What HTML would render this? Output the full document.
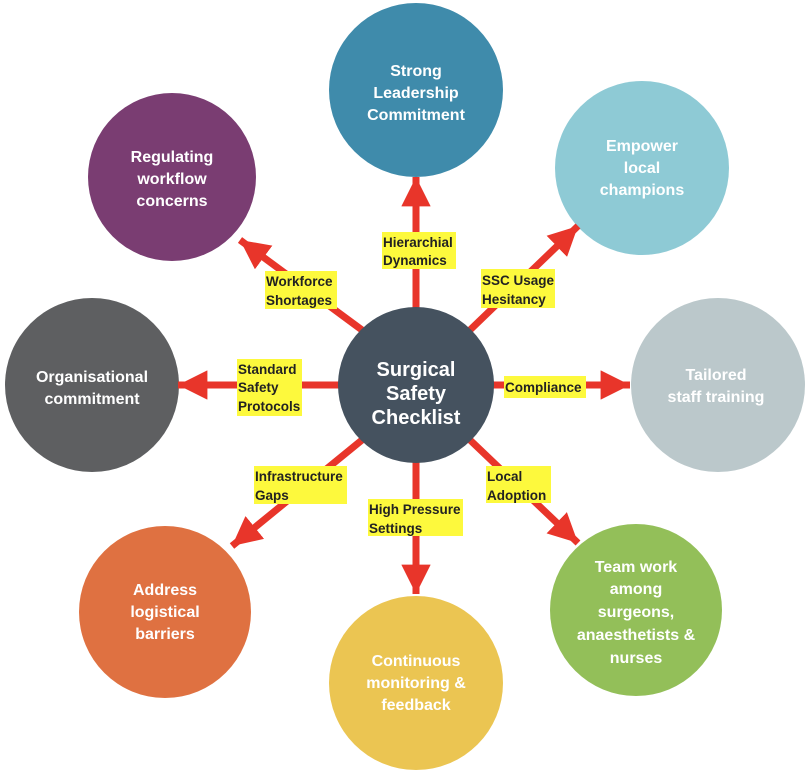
<!DOCTYPE html>
<html><head><meta charset="utf-8"><style>
html,body{margin:0;padding:0;background:#fff;}
svg{display:block;}
.ct{font-family:"Liberation Sans",sans-serif;font-weight:bold;font-size:16px;fill:#fff;text-anchor:middle;}
.lb{font-family:"Liberation Sans",sans-serif;font-weight:bold;font-size:13.5px;fill:#222;}
</style></head><body>
<svg width="807" height="775" viewBox="0 0 807 775">
<defs>
<marker id="ah" viewBox="0 0 10 10" refX="10" refY="5" markerWidth="4.2" markerHeight="4.2" orient="auto" markerUnits="strokeWidth">
<path d="M0,0 L10,5 L0,10 z" fill="#e8352a"/></marker>
</defs>
<circle cx="416" cy="90" r="87" fill="#3f8bab"/>
<circle cx="642" cy="168" r="87" fill="#8ecad5"/>
<circle cx="718" cy="385" r="87" fill="#bbc8cb"/>
<circle cx="636" cy="610" r="86" fill="#93bf59"/>
<circle cx="416" cy="683" r="87" fill="#ebc552"/>
<circle cx="165" cy="612" r="86" fill="#df7141"/>
<circle cx="92" cy="385" r="87" fill="#5e5f61"/>
<circle cx="172" cy="177" r="84" fill="#7a3d72"/>
<g stroke="#e8352a" stroke-width="7" marker-end="url(#ah)">
<line x1="416" y1="310" x2="416" y2="177"/>
<line x1="470" y1="330" x2="578" y2="226"/>
<line x1="490" y1="385" x2="630" y2="385"/>
<line x1="470" y1="440" x2="578" y2="543"/>
<line x1="416" y1="460" x2="416" y2="594"/>
<line x1="362" y1="440" x2="232" y2="546"/>
<line x1="340" y1="385" x2="178" y2="385"/>
<line x1="362" y1="330" x2="240" y2="240"/>
</g>
<circle cx="416" cy="385" r="78" fill="#45525f"/>
<g fill="#fdf93d">
<rect x="382" y="232" width="74" height="37"/>
<rect x="265" y="271" width="72" height="38"/>
<rect x="481" y="269" width="74" height="39"/>
<rect x="237" y="359" width="65" height="57"/>
<rect x="504" y="376" width="82" height="22"/>
<rect x="254" y="466" width="93" height="38"/>
<rect x="368" y="499" width="95" height="37"/>
<rect x="486" y="466" width="65" height="37"/>
</g>
<g class="lb">
<text x="383" y="247">Hierarchial</text><text x="383" y="265">Dynamics</text>
<text x="266" y="286">Workforce</text><text x="266" y="305">Shortages</text>
<text x="482" y="285">SSC Usage</text><text x="482" y="304">Hesitancy</text>
<text x="238" y="374">Standard</text><text x="238" y="392">Safety</text><text x="238" y="411">Protocols</text>
<text x="505" y="392">Compliance</text>
<text x="255" y="481">Infrastructure</text><text x="255" y="500">Gaps</text>
<text x="369" y="514">High Pressure</text><text x="369" y="533">Settings</text>
<text x="487" y="481">Local</text><text x="487" y="500">Adoption</text>
</g>
<g class="ct">
<text x="416" y="376" font-size="20">Surgical</text>
<text x="416" y="400" font-size="20">Safety</text>
<text x="416" y="424" font-size="20">Checklist</text>
<text x="416" y="76">Strong</text><text x="416" y="98">Leadership</text><text x="416" y="120">Commitment</text>
<text x="642" y="151">Empower</text><text x="642" y="173">local</text><text x="642" y="195">champions</text>
<text x="716" y="380">Tailored</text><text x="716" y="402">staff training</text>
<text x="636" y="572">Team work</text><text x="636" y="594">among</text><text x="636" y="617">surgeons,</text><text x="636" y="640">anaesthetists &amp;</text><text x="636" y="663">nurses</text>
<text x="416" y="666">Continuous</text><text x="416" y="688">monitoring &amp;</text><text x="416" y="710">feedback</text>
<text x="165" y="595">Address</text><text x="165" y="617">logistical</text><text x="165" y="639">barriers</text>
<text x="92" y="382">Organisational</text><text x="92" y="404">commitment</text>
<text x="172" y="162">Regulating</text><text x="172" y="184">workflow</text><text x="172" y="206">concerns</text>
</g>
</svg>
</body></html>
